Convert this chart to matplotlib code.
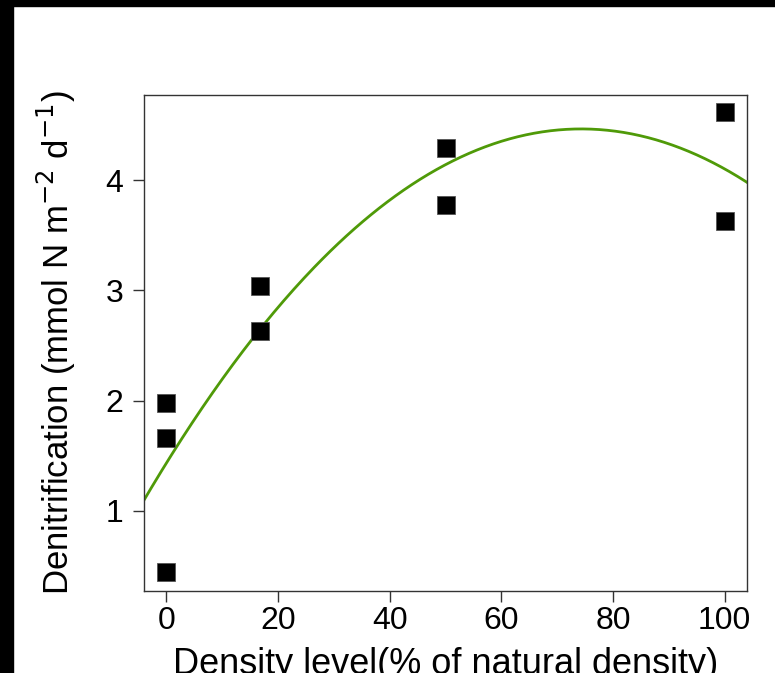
import numpy as np
import matplotlib
matplotlib.use("Agg")
import matplotlib.pyplot as plt
from matplotlib.patches import Rectangle

plt.rcParams['font.family'] = ['Liberation Sans', 'DejaVu Sans']

# Data
density = [0, 0, 0, 16.7, 16.7, 50, 50, 100, 100]
denitrification = [0.44, 1.66, 1.98, 2.63, 3.04, 3.78, 4.29, 3.63, 4.62]
xticks = [0, 20, 40, 60, 80, 100]
yticks = [1, 2, 3, 4]

W, H = 775, 673
fig = plt.figure(figsize=(W / 100, H / 100), dpi=100)
ax = fig.add_axes([144 / W, 1 - 591 / H, (747 - 144) / W, (591 - 95) / H])

# quadratic fit of the data
coef = np.polyfit(density, denitrification, 2)
xs = np.linspace(-4.5, 104.5, 300)
ax.plot(xs, np.polyval(coef, xs), color='#4f9a08', lw=2.0, zorder=2)

ax.plot(density, denitrification, 's', color='black', markersize=12.5,
        markeredgecolor='#555555', markeredgewidth=0.6, zorder=3)

ax.set_xlim(-4, 104)
ax.set_ylim(0.27, 4.775)
ax.set_xticks(xticks)
ax.set_yticks(yticks)
ax.tick_params(axis='both', direction='out', length=8, width=1.0,
               labelsize=23, color='#333333')
ax.tick_params(axis='x', pad=2.5)
ax.tick_params(axis='y', pad=7)
for s in ax.spines.values():
    s.set_linewidth(1.0)
    s.set_color('#333333')

ax.set_xlabel('Density level(% of natural density)', fontsize=26, labelpad=8)
ax.set_ylabel(r'Denitrification (mmol N m$^{-2}$ d$^{-1}$)', fontsize=25, labelpad=20)

fig.add_artist(Rectangle((0, 1 - 6 / H), 1, 6 / H, transform=fig.transFigure,
                         color='black', zorder=10))
fig.add_artist(Rectangle((0, 0), 13 / W, 1, transform=fig.transFigure,
                         color='black', zorder=10))

fig.savefig('out.png', dpi=100)
